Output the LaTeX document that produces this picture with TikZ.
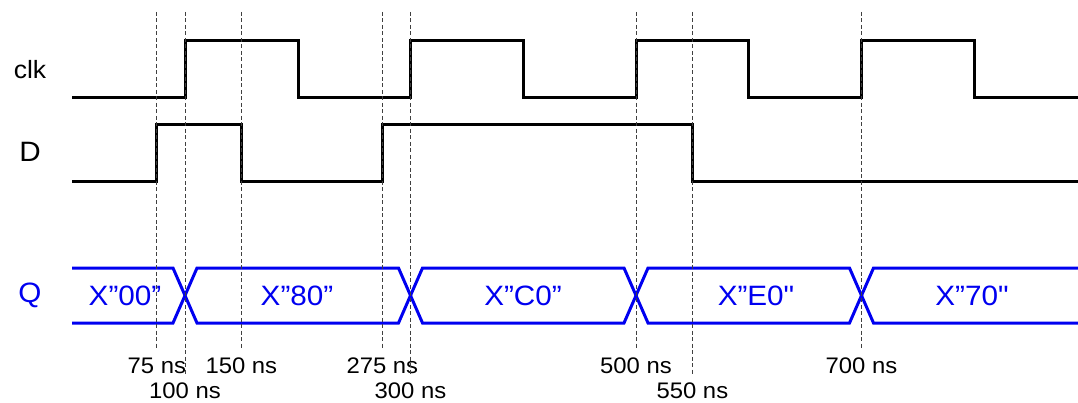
\documentclass[tikz,border=0pt]{standalone}
\usepackage{fontspec}
\setmainfont{Liberation Sans}[FakeStretch=1.06,Ligatures=TeXOff]
\begin{document}
\begin{tikzpicture}[x=1pt,y=-1pt,
  sig/.style={line width=3pt,line join=miter,line cap=butt},
  bus/.style={sig,draw={rgb,255:red,0;green,0;blue,240}},
  marker/.style={line width=0.8pt,draw=black!75,dash pattern=on 4pt off 2.5pt},
  signame/.style={inner sep=0pt,font=\fontsize{28}{30}\selectfont},
  busval/.style={inner sep=0pt,text={rgb,255:red,0;green,0;blue,240},font=\fontsize{28}{30}\selectfont},
  tlabel/.style={inner sep=0pt,font=\fontsize{22.5}{24}\selectfont}]
\useasboundingbox (0,0) rectangle (1078,403);

% signal names
\node[signame,font=\fontsize{25}{27}\selectfont] (nclk) at (30,70) {clk};
\node[signame] (nd) at (30,152) {D};
\node[signame,text={rgb,255:red,0;green,0;blue,240}] (nq) at (30,295.5) {Q};

% clock
\draw[sig] (72,98) -- (185,98) -- (185,41) -- (298,41) -- (298,98)
  -- (410.5,98) -- (410.5,41) -- (523,41) -- (523,98)
  -- (636,98) -- (636,41) -- (748.8,41) -- (748.8,98)
  -- (861.5,98) -- (861.5,41) -- (974.3,41) -- (974.3,98) -- (1078,98);

% data input
\draw[sig] (72,182) -- (156.8,182) -- (156.8,125) -- (241.4,125) -- (241.4,182)
  -- (382.3,182) -- (382.3,125) -- (692.4,125) -- (692.4,182) -- (1078,182);

% output bus
\draw[bus] (72,268) -- (173,268) -- (185,295.5) -- (173,323) -- (72,323);
\draw[bus] (185,295.5) -- (197,268) -- (398.5,268) -- (410.5,295.5) -- (398.5,323) -- (197,323) -- cycle;
\draw[bus] (410.5,295.5) -- (422.5,268) -- (624,268) -- (636,295.5) -- (624,323) -- (422.5,323) -- cycle;
\draw[bus] (636,295.5) -- (648,268) -- (849.5,268) -- (861.5,295.5) -- (849.5,323) -- (648,323) -- cycle;
\draw[bus] (1078,268) -- (873.5,268) -- (861.5,295.5) -- (873.5,323) -- (1078,323);

\node[busval] (v0) at (125,295.5) {X”00”};
\node[busval] (v1) at (297,295.5) {X”80”};
\node[busval] (v2) at (523,295.5) {X”C0”};
\node[busval] (v3) at (756,295.5) {X”E0"};
\node[busval] (v4) at (972,295.5) {X”70"};

% time labels
\node[tlabel] (l75)  at (156.8,366) {75 ns};
\node[tlabel] (l100) at (185,390.5)   {100 ns};
\node[tlabel] (l150) at (241.4,366) {150 ns};
\node[tlabel] (l275) at (382.3,366) {275 ns};
\node[tlabel] (l300) at (410.5,390.5) {300 ns};
\node[tlabel] (l500) at (636,366)   {500 ns};
\node[tlabel] (l550) at (692.4,390.5) {550 ns};
\node[tlabel] (l700) at (861.5,366) {700 ns};

% time markers
\foreach \n/\x in {75/156.8,100/185,150/241.4,275/382.3,300/410.5,500/636,550/692.4,700/861.5}
  \coordinate (m\n) at (\x,12);
\foreach \n in {75,100,150,275,300,500,550,700}
  \draw[marker] (m\n) -- ([yshift=8pt]l\n.north);
\end{tikzpicture}
\end{document}
